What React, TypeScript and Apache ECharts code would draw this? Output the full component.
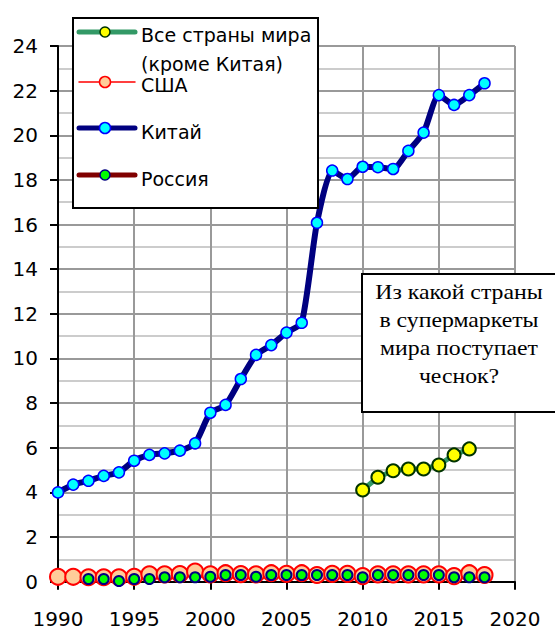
import { useEffect, useRef } from "react";
import * as echarts from "echarts";

const years = [1990, 1991, 1992, 1993, 1994, 1995, 1996, 1997, 1998, 1999, 2000, 2001, 2002, 2003, 2004, 2005, 2006, 2007, 2008, 2009, 2010, 2011, 2012, 2013, 2014, 2015, 2016, 2017, 2018];
const chinaValues = [4.0, 4.35, 4.52, 4.74, 4.9, 5.42, 5.68, 5.75, 5.87, 6.2, 7.57, 7.92, 9.08, 10.16, 10.6, 11.16, 11.6, 16.08, 18.42, 18.04, 18.59, 18.57, 18.49, 19.3, 20.12, 21.8, 21.36, 21.8, 22.33];
const usaValues = [0.22, 0.22, 0.2, 0.2, 0.2, 0.22, 0.33, 0.33, 0.34, 0.45, 0.33, 0.38, 0.34, 0.33, 0.38, 0.35, 0.38, 0.3, 0.35, 0.35, 0.25, 0.33, 0.33, 0.33, 0.33, 0.33, 0.25, 0.38, 0.3];
const russiaYears = [1992, 1993, 1994, 1995, 1996, 1997, 1998, 1999, 2000, 2001, 2002, 2003, 2004, 2005, 2006, 2007, 2008, 2009, 2010, 2011, 2012, 2013, 2014, 2015, 2016, 2017, 2018];
const russiaValues = [0.12, 0.12, 0.03, 0.12, 0.12, 0.2, 0.2, 0.2, 0.22, 0.3, 0.3, 0.22, 0.3, 0.3, 0.3, 0.3, 0.3, 0.3, 0.2, 0.3, 0.3, 0.3, 0.3, 0.3, 0.2, 0.2, 0.2];
const worldYears = [2010, 2011, 2012, 2013, 2014, 2015, 2016, 2017];
const worldValues = [4.11, 4.68, 4.97, 5.05, 5.05, 5.23, 5.68, 5.95];

const seriesNames = ["Все страны мира\n(кроме Китая)", "США", "Китай", "Россия"];
const questionText = "Из какой страны\nв супермаркеты\nмира поступает\nчеснок?";

const SANS = "DejaVu Sans";
const SERIF = "Liberation Serif";

function pairs(xs: number[], ys: number[]) {
  return ys.map((v, i) => [xs[i], v]);
}

export default function App() {
  const ref = useRef<HTMLDivElement>(null);
  useEffect(() => {
    if (!ref.current) return;
    const chart = echarts.init(ref.current, null, { renderer: "svg" });

    const legendItems = [
      { y: 32, line: "#339966", lw: 5, fill: "#FFFF00", stroke: "#003300", r: 5, ty: 34 },
      { y: 82, line: "#FF0000", lw: 1.5, fill: "#FFCC99", stroke: "#FF0000", r: 5.5, ty: 85 },
      { y: 128, line: "#000080", lw: 5, fill: "#00FFFF", stroke: "#0000FF", r: 5.5, ty: 132 },
      { y: 175, line: "#800000", lw: 5, fill: "#00FF00", stroke: "#000080", r: 5, ty: 179 },
    ];
    const legendGraphics: any[] = [
      {
        type: "rect",
        shape: { x: 73, y: 18, width: 245, height: 190 },
        style: { fill: "#fff", stroke: "#000", lineWidth: 2 },
        z: 100,
      },
    ];
    legendItems.forEach((it, i) => {
      legendGraphics.push({
        type: "line",
        shape: { x1: 79, y1: it.y, x2: 135, y2: it.y },
        style: { stroke: it.line, lineWidth: it.lw, lineCap: "round" },
        z: 101,
      });
      legendGraphics.push({
        type: "circle",
        shape: { cx: 105, cy: it.y, r: it.r },
        style: { fill: it.fill, stroke: it.stroke, lineWidth: 1.5 },
        z: 102,
      });
      legendGraphics.push({
        type: "text",
        x: 141,
        y: i === 0 ? 20 : it.ty,
        style: {
          text: seriesNames[i],
          font: `19px "${SANS}"`,
          fill: "#000",
          verticalAlign: i === 0 ? "top" : "middle",
          lineHeight: 29,
        },
        z: 102,
      });
    });

    const option: any = {
      animation: false,
      backgroundColor: "#fff",
      grid: { left: 58, right: 40, top: 46, bottom: 48.3, containLabel: false },
      xAxis: {
        type: "value",
        min: 1990,
        max: 2020,
        interval: 5,
        axisLine: { show: true, lineStyle: { color: "#000", width: 2 } },
        axisTick: { show: true, inside: false, length: 8, lineStyle: { color: "#000", width: 2 } },
        axisLabel: {
          color: "#000",
          fontFamily: SANS,
          fontSize: 20,
          margin: 27,
          showMaxLabel: true,
          showMinLabel: true,
          formatter: (v: number) => String(v),
        },
        splitLine: { show: true, lineStyle: { color: "#999", width: 2 } },
      },
      yAxis: {
        type: "value",
        min: 0,
        max: 24,
        interval: 2,
        axisLine: { show: true, onZero: false, lineStyle: { color: "#000", width: 2 } },
        axisTick: { show: true, inside: false, length: 8, lineStyle: { color: "#000", width: 2 } },
        axisLabel: { color: "#000", fontFamily: SANS, fontSize: 20, margin: 20 },
        splitLine: { show: true, lineStyle: { color: "#999", width: 2 } },
        minorTick: { show: false, splitNumber: 2 },
        minorSplitLine: { show: true, lineStyle: { color: "#cccccc", width: 2 } },
      },
      series: [
        {
          name: seriesNames[1],
          type: "line",
          data: pairs(years, usaValues),
          clip: false,
          symbol: "circle",
          symbolSize: 16,
          itemStyle: { color: "#FFCC99", borderColor: "#FF0000", borderWidth: 2 },
          lineStyle: { color: "#FF0000", width: 1 },
          z: 3,
        },
        {
          name: seriesNames[3],
          type: "line",
          data: pairs(russiaYears, russiaValues),
          clip: false,
          symbol: "circle",
          symbolSize: 10,
          itemStyle: { color: "#00FF00", borderColor: "#000080", borderWidth: 2 },
          lineStyle: { color: "#800000", width: 0, opacity: 0 },
          z: 4,
        },
        {
          name: seriesNames[0],
          type: "line",
          data: pairs(worldYears, worldValues),
          clip: false,
          symbol: "circle",
          symbolSize: 13,
          itemStyle: { color: "#FFFF00", borderColor: "#003300", borderWidth: 2 },
          lineStyle: { color: "#339966", width: 5 },
          z: 5,
        },
        {
          name: seriesNames[2],
          type: "line",
          data: pairs(years, chinaValues),
          clip: false,
          smooth: 0.2,
          symbol: "circle",
          symbolSize: 11,
          itemStyle: { color: "#00FFFF", borderColor: "#0000FF", borderWidth: 1.5 },
          lineStyle: { color: "#000080", width: 6 },
          z: 6,
        },
      ],
      graphic: [
        ...legendGraphics,
        {
          type: "rect",
          shape: { x: 362, y: 274, width: 210, height: 138 },
          style: { fill: "#fff", stroke: "#000", lineWidth: 2 },
          z: 100,
        },
        {
          type: "text",
          x: 459,
          y: 278,
          scaleX: 1.08,
          style: {
            text: questionText,
            font: `22px "${SERIF}"`,
            fill: "#000",
            align: "center",
            verticalAlign: "top",
            lineHeight: 28,
          },
          z: 101,
        },
      ],
    };
    chart.setOption(option);
    return () => chart.dispose();
  }, []);

  return (
    <div
      ref={ref}
      style={{ position: "absolute", left: 0, top: 0, width: 555, height: 630, background: "#fff" }}
    />
  );
}
